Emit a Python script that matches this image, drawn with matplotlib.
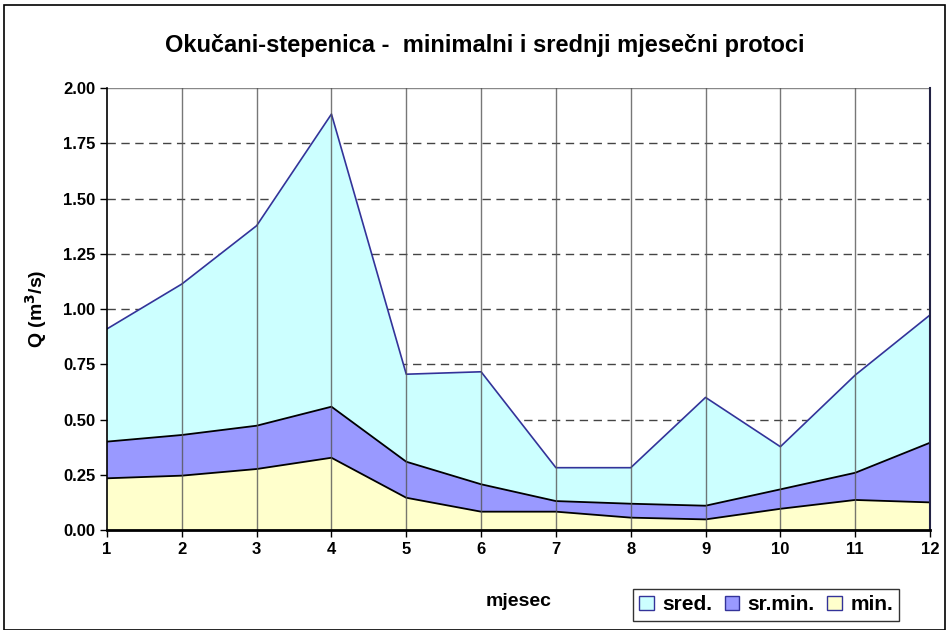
import matplotlib.pyplot as plt
from matplotlib.patches import Rectangle, Patch

plt.rcParams['font.family'] = ['Liberation Sans', 'DejaVu Sans']

months = list(range(1, 13))
sred = [0.91, 1.113, 1.377, 1.882, 0.705, 0.716, 0.282, 0.282, 0.600, 0.377, 0.701, 0.973]
sr_min = [0.40, 0.43, 0.472, 0.558, 0.309, 0.207, 0.131, 0.119, 0.110, 0.184, 0.259, 0.395]
min_q = [0.234, 0.246, 0.276, 0.327, 0.146, 0.083, 0.083, 0.056, 0.048, 0.096, 0.136, 0.125]

fig = plt.figure(figsize=(9.46, 6.3), dpi=100)
ax = fig.add_axes([0.1131, 0.1587, 0.8700, 0.7016])

# dashed horizontal grid behind the areas
for y in [0.25, 0.5, 0.75, 1.0, 1.25, 1.5, 1.75]:
    ax.axhline(y, color='#444444', linestyle=(0, (6, 4)), linewidth=1, zorder=0)
ax.axhline(2.0, color='#888888', linewidth=1, zorder=0)

ax.fill_between(months, sred, 0, facecolor='#CCFFFF', edgecolor='none', zorder=1)
ax.plot(months, sred, color='#333399', linewidth=1.2, zorder=2)
ax.fill_between(months, sr_min, 0, facecolor='#9999FF', edgecolor='none', zorder=3)
ax.plot(months, sr_min, color='black', linewidth=1.3, zorder=4)
ax.fill_between(months, min_q, 0, facecolor='#FFFFCC', edgecolor='none', zorder=5)
ax.plot(months, min_q, color='black', linewidth=1.3, zorder=6)

# vertical lines over the areas
for m in months[1:-1]:
    ax.axvline(m, color='#555555', linewidth=1, alpha=0.8, zorder=7)

ax.set_xlim(1, 12)
ax.set_ylim(0, 2.0)
ax.set_xticks(months)
ax.set_yticks([0, 0.25, 0.5, 0.75, 1.0, 1.25, 1.5, 1.75, 2.0])
ax.set_yticklabels([f'{v:.2f}' for v in ax.get_yticks()])
ax.tick_params(axis='both', labelsize=12, direction='out', length=5, width=1)
for lab in ax.get_xticklabels() + ax.get_yticklabels():
    lab.set_fontweight('bold')

ax.spines['top'].set_visible(False)
ax.spines['left'].set_linewidth(1.2)
ax.spines['bottom'].set_linewidth(2)
ax.spines['right'].set_color('#222244')
ax.spines['right'].set_linewidth(1.5)
for s in ax.spines.values():
    s.set_zorder(8)

ax.set_xlabel('mjesec', fontsize=14, fontweight='bold', labelpad=26)
ax.set_ylabel('Q (m$^\\mathbf{3}$/s)', fontsize=14, fontweight='bold', labelpad=10)
fig.text(0.512, 0.928, 'Okučani-stepenica -  minimalni i srednji mjesečni protoci',
         ha='center', va='center', fontsize=17, fontweight='bold')

handles = [Patch(facecolor='#CCFFFF', edgecolor='#333399'),
           Patch(facecolor='#9999FF', edgecolor='#333399'),
           Patch(facecolor='#FFFFCC', edgecolor='#333399')]
leg = fig.legend(handles, ['sred.', 'sr.min.', 'min.'], loc='center',
                 bbox_to_anchor=(0.81, 0.04), ncol=3, fontsize=15, frameon=True,
                 fancybox=False, handlelength=0.7, handleheight=0.7,
                 handletextpad=0.4, columnspacing=0.6, borderpad=0.3)
leg.get_frame().set_edgecolor('black')
leg.get_frame().set_linewidth(1)
for t in leg.get_texts():
    t.set_fontweight('bold')

fig.patches.append(Rectangle((0.004, 0.0), 0.995, 0.992, transform=fig.transFigure,
                             fill=False, edgecolor='black', linewidth=1.2))

fig.savefig('out.png', dpi=100)
